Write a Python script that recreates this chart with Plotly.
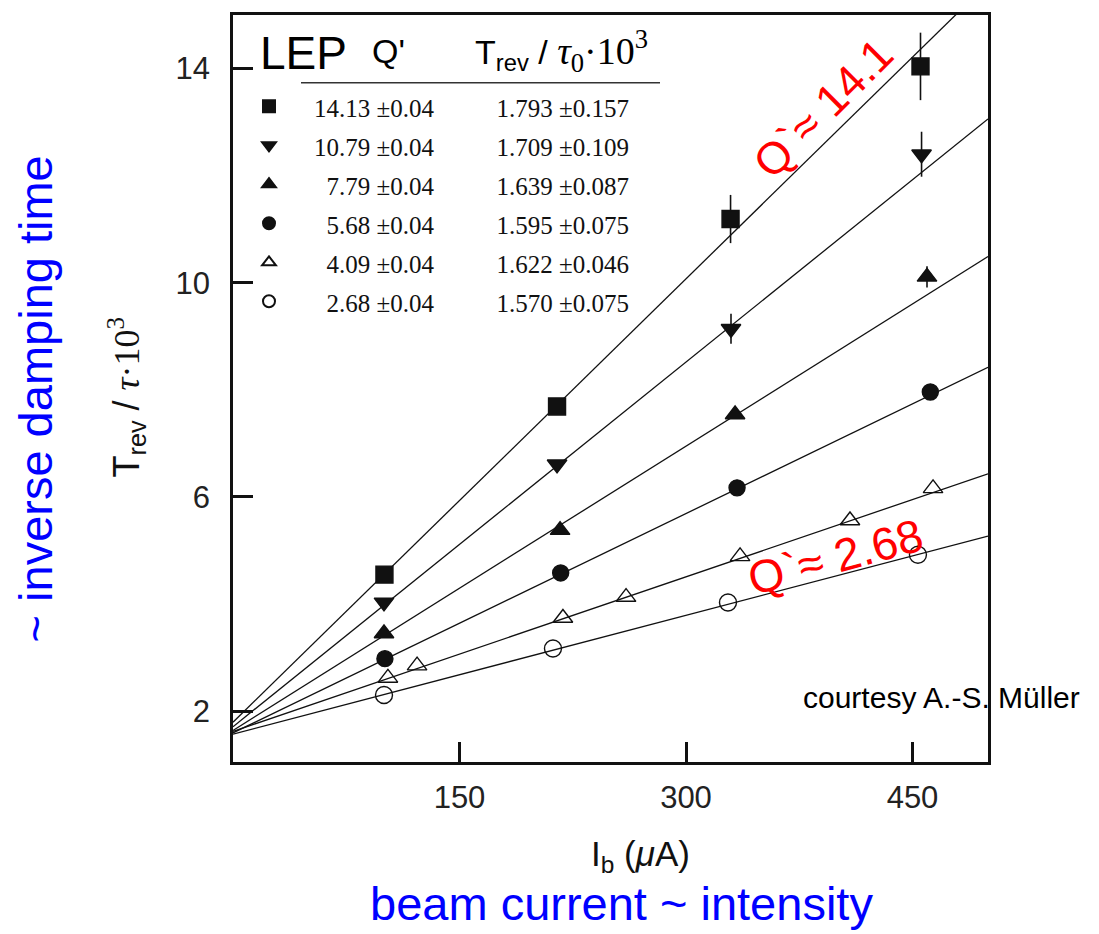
import plotly.graph_objects as go

# ---------------- data ----------------
q_labels = ["14.13 ±0.04", "10.79 ±0.04", "7.79 ±0.04", "5.68 ±0.04", "4.09 ±0.04", "2.68 ±0.04"]
t_labels = ["1.793 ±0.157", "1.709 ±0.109", "1.639 ±0.087", "1.595 ±0.075", "1.622 ±0.046", "1.570 ±0.075"]
intercepts = [1.793, 1.709, 1.639, 1.595, 1.622, 1.570]
slopes = [0.0276, 0.0227, 0.0177, 0.01365, 0.00962, 0.0074]
fit_x = [0, 500]

x_sq = [100.3, 214.6, 329.5, 455.3]
y_sq = [4.55, 7.69, 11.19, 14.04]
e_sq = [0, 0.12, 0.45, 0.63]

x_td = [100.0, 214.6, 329.8, 456.0]
y_td = [4.03, 6.61, 9.14, 12.40]
e_td = [0, 0.08, 0.28, 0.42]

x_tu = [100.0, 216.6, 332.5, 459.6]
y_tu = [3.45, 5.38, 7.54, 10.11]
e_tu = [0, 0, 0.08, 0.2]

x_ci = [100.6, 217.0, 333.8, 461.8]
y_ci = [2.98, 4.58, 6.17, 7.96]
e_ci = [0, 0, 0, 0.15]

x_ot = [102.6, 121.9, 218.5, 260.3, 335.8, 408.6, 463.6]
y_ot = [2.62, 2.85, 3.74, 4.13, 4.89, 5.56, 6.16]

x_oc = [100.0, 211.9, 327.8, 453.6]
y_oc = [2.30, 3.17, 4.03, 4.92]

series_x = [x_sq, x_td, x_tu, x_ci, x_ot, x_oc]
series_y = [y_sq, y_td, y_tu, y_ci, y_ot, y_oc]
series_e = [e_sq, e_td, e_tu, e_ci, None, None]
symbols = ["square", "triangle-down", "triangle-up", "circle", "triangle-up-open", "circle-open"]
sizes = [17, 17, 17, 16, 17, 17]

y_ticks = [2, 6, 10, 14]
x_ticks = [150, 300, 450]

# ---------------- figure ----------------
fig = go.Figure()

for b, m in zip(intercepts, slopes):
    fig.add_trace(go.Scatter(
        x=fit_x, y=[b + m * xx for xx in fit_x], mode="lines",
        line=dict(color="#111111", width=1.3), showlegend=False, hoverinfo="skip"))

TR = '<span style="color:rgba(0,0,0,0)">0</span>'
for i in range(6):
    pad = TR * (2 + (5 - len(q_labels[i].split(" ")[0])))
    name = ('<span style="font-size:25px">' + pad + q_labels[i] +
            "\u00a0" * 10 + t_labels[i] + "</span>")
    err = None
    if series_e[i] is not None:
        err = dict(type="data", array=series_e[i], visible=True,
                   thickness=1.6, width=0, color="#111111")
    fig.add_trace(go.Scatter(
        x=series_x[i], y=series_y[i], mode="markers", name=name,
        error_y=err,
        marker=dict(symbol=symbols[i], size=sizes[i], color="#111111",
                    line=dict(width=1.4, color="#111111"))))

PLOT_L, PLOT_R, PLOT_T, PLOT_B = 233, 988, 12, 762
W, H = 1099, 934


def px(xp):
    return (xp - PLOT_L) / (PLOT_R - PLOT_L)


def py(yp):
    return (PLOT_B - yp) / (PLOT_B - PLOT_T)


SANS = "Liberation Sans, Arial, sans-serif"
SERIF = "Liberation Serif, Times New Roman, serif"

annotations = [
    dict(text="LEP", x=px(258), y=py(50), xanchor="left", yanchor="middle",
         font=dict(family=SANS, size=46, color="black")),
    dict(text="Q'", x=px(370), y=py(48), xanchor="left", yanchor="middle",
         font=dict(family=SANS, size=34, color="black")),
    dict(text='T<sub>rev</sub> / <span style="font-family:Liberation Serif;font-size:38px"><i>τ</i><sub>0</sub>·10<sup>3</sup></span>',
         x=px(473), y=py(48), xanchor="left", yanchor="middle",
         font=dict(family=SANS, size=34, color="black")),
    dict(text="Q`≈ 14.1", x=px(823), y=py(106), textangle=-45,
         xanchor="center", yanchor="middle",
         font=dict(family=SANS, size=45, color="#ff0000")),
    dict(text="Q`≈ 2.68", x=px(835), y=py(556), textangle=-15,
         xanchor="center", yanchor="middle",
         font=dict(family=SANS, size=46, color="#ff0000")),
    dict(text="courtesy A.-S. Müller", x=px(801), y=py(697),
         xanchor="left", yanchor="middle",
         font=dict(family=SANS, size=30, color="black")),
    dict(text="~ inverse damping time", x=px(35), y=py(398), textangle=-90,
         xanchor="center", yanchor="middle",
         font=dict(family=SANS, size=47, color="#0000ff")),
    dict(text="beam current ~ intensity", x=px(621), y=py(904),
         xanchor="center", yanchor="middle",
         font=dict(family=SANS, size=47, color="#0000ff")),
    dict(text='T<sub>rev</sub> / <span style="font-family:Liberation Serif"><i>τ</i>·10<sup>3</sup></span>',
         x=px(127), y=py(395), textangle=-90,
         xanchor="center", yanchor="middle",
         font=dict(family=SANS, size=36, color="#111111")),
    dict(text='I<sub>b</sub> (<i>μ</i>A)', x=px(640), y=py(856),
         xanchor="center", yanchor="middle",
         font=dict(family=SANS, size=35, color="#111111")),
]
for a in annotations:
    a.update(xref="paper", yref="paper", showarrow=False)

axis_common = dict(
    showline=True, mirror=True, linewidth=2.5, linecolor="#111111",
    ticks="inside", ticklen=20, tickwidth=2.5, tickcolor="#111111",
    showgrid=False, zeroline=False,
    tickfont=dict(family=SANS, size=31, color="#222222"),
)

fig.update_layout(
    width=W, height=H,
    margin=dict(l=PLOT_L, r=W - PLOT_R, t=PLOT_T, b=H - PLOT_B),
    plot_bgcolor="white", paper_bgcolor="white",
    xaxis=dict(range=[0, 500], tickvals=x_ticks, ticklabelstandoff=6, **axis_common),
    yaxis=dict(range=[1.05, 15], tickvals=y_ticks, ticklabelstandoff=14, **axis_common),
    showlegend=True,
    legend=dict(x=px(249), y=py(79), xanchor="left", yanchor="top",
                bgcolor="rgba(0,0,0,0)", borderwidth=0,
                itemsizing="constant",
                font=dict(family=SERIF, size=27.7, color="#111111")),
    annotations=annotations,
    shapes=[dict(type="line", xref="paper", yref="paper",
                 x0=px(301), x1=px(660), y0=py(80), y1=py(80),
                 line=dict(color="#333333", width=1.6))],
)

fig.write_html("out.html")
